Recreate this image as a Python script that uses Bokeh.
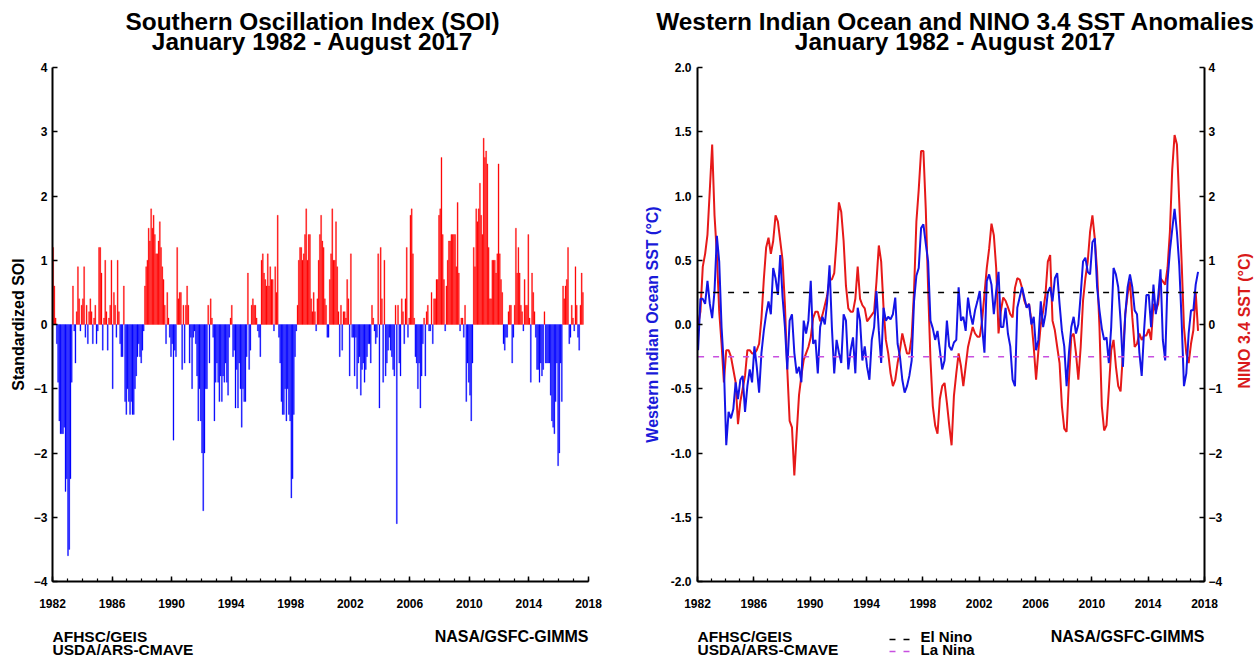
import math
import numpy as np
from bokeh.plotting import figure
from bokeh.models import Range1d, LinearAxis, FixedTicker, NumeralTickFormatter, ColumnDataSource
from bokeh.layouts import column, row
from bokeh.core.properties import value
from bokeh.embed import file_html
from bokeh.resources import INLINE

FONT = "Liberation Sans"

# ---------------- data ----------------
start_year = 1982
end_year = 2018
year_ticks = list(range(1982, 2019, 4))
year_minor_ticks = list(range(1982, 2019))
soi_ticks = [-4, -3, -2, -1, 0, 1, 2, 3, 4]
wio_ticks = [-2.0, -1.5, -1.0, -0.5, 0.0, 0.5, 1.0, 1.5, 2.0]
nino_ticks = [-4, -3, -2, -1, 0, 1, 2, 3, 4]

# Monthly standardized SOI, Jan 1982 - Aug 2017 (one row per year)
soi = [
    1.2, 0.6, 0.1, -0.3, -0.9, -1.5, -1.7, -1.7, -1.7, -1.6, -2.6, -2.4,   # 1982
    -3.6, -3.5, -2.4, -0.9, 0.6, -0.1, -0.6, 0.2, 0.9, 0.4, -0.1, 0.3,    # 1983
    0.4, 0.9, -0.2, 0.3, -0.3, 0.2, 0.4, 0.2, -0.3, 0.1, 0.3, -0.3,       # 1984
    -0.1, 1.2, 1.2, 0.8, -0.4, 0.1, 1.0, 0.2, -0.4, 0.1, 0.3, 1.0,        # 1985
    -1.0, 0.5, 0.3, -0.2, 1.0, 0.2, -0.3, -0.5, -0.5, 0.6, -1.2, -1.4,    # 1986
    -1.0, -1.2, -1.4, -1.2, -1.4, -1.4, -1.0, -0.8, -0.5, -0.3, -0.5, -0.6,  # 1987
    -0.4, -0.1, 0.6, 0.9, 1.0, 1.5, 1.3, 1.8, 1.5, 1.7, 1.4, 1.1,         # 1988
    1.1, 1.3, 1.6, 1.2, 0.9, 0.7, 0.3, -0.3, 0.5, 0.1, -0.2, -0.5,        # 1989
    -0.3, -1.8, -0.4, -0.5, 1.2, 0.4, 0.5, 0.5, -0.7, 0.3, -0.6, 0.3,     # 1990
    0.6, 0.3, -0.6, -0.2, -1.0, -0.2, -0.1, -0.3, -0.8, -1.5, -1.0, -1.5, # 1991
    -2.0, -2.9, -2.0, -1.0, -1.0, 0.3, -0.6, 0.4, 0.1, -0.2, -1.5, -0.9,  # 1992
    -0.6, -0.9, -1.2, -0.8, -1.2, -0.8, -0.9, -0.6, -0.9, -1.1, -0.2, 0.1,  # 1993
    0.3, -0.5, -0.4, -1.3, -0.7, -1.3, -0.6, -1.0, -1.6, -1.0, -1.2, -1.2,  # 1994
    -0.5, 0.8, -0.7, -0.4, 0.3, 0.4, 0.3, 0.3, 0.1, -0.1, -0.2, -0.5,     # 1995
    1.0, 1.1, 0.8, 0.7, 0.6, 1.1, 0.6, 0.9, 0.7, 0.7, -0.1, 0.9,          # 1996
    0.5, 1.7, -0.2, -0.6, -1.2, -1.4, -1.4, -1.0, -1.5, -1.0, -1.4, -1.5, # 1997
    -2.7, -2.4, -1.4, -0.5, -0.1, 0.3, 1.0, 1.2, 1.2, 1.0, 1.1, 1.4,      # 1998
    1.8, 1.0, 1.4, 1.4, 0.4, 0.2, 0.5, 0.2, -0.1, 0.4, 1.0, 1.4,          # 1999
    1.7, 1.3, 1.2, 0.4, 0.3, -0.2, -0.2, 0.7, 1.1, 1.8, 1.0, 1.0,         # 2000
    1.6, 0.9, 0.2, -0.5, 0.3, -0.4, 0.2, 0.2, 0.1, 0.7, 0.4, -0.8,        # 2001
    1.1, -0.2, -0.2, -0.8, -0.2, -1.0, -0.6, -0.5, -1.1, -0.7, -0.6, -0.9,  # 2002
    -0.7, -0.5, -0.3, -0.3, -0.6, 0.3, 0.1, -0.1, -0.3, -0.2, 1.1, -1.3,  # 2003
    1.2, 0.4, -0.9, 1.0, -0.8, -0.6, -0.4, -0.2, -0.4, -0.5, -0.7, -0.8,  # 2004
    0.3, -3.1, 0.3, -0.6, -0.8, 0.4, 0.2, -0.3, 0.4, 1.2, -0.2, 0.1,      # 2005
    1.7, 1.8, 1.1, 0.1, -0.5, -0.6, -1.0, -0.6, -1.3, -0.8, -0.3, 0.1,    # 2006
    -0.8, 0.2, 0.3, -0.1, -0.1, 0.5, -0.3, 0.4, 0.4, 0.7, 0.7, 1.7,       # 2007
    1.8, 2.6, 1.4, 0.7, -0.1, 0.6, 1.0, 1.3, 1.3, 1.4, 1.4, 1.4,          # 2008
    1.4, 0.9, 1.9, 0.8, -0.1, 0.1, 0.1, -0.2, 0.3, -1.2, -0.6, -0.9,      # 2009
    -1.1, -1.5, -0.6, 1.2, 0.9, 1.8, 1.6, 1.8, 2.2, 1.7, 1.4, 2.9,        # 2010
    2.6, 2.7, 2.5, 1.2, 0.4, 0.4, 1.0, 1.0, 1.0, 0.8, 1.1, 2.5,           # 2011
    1.1, 0.7, 0.5, -0.3, -0.4, -0.2, -0.2, 0.2, 0.3, 0.3, -0.6, -0.2,     # 2012
    0.3, 1.5, 0.8, 1.2, 0.8, 0.3, 0.2, -0.1, 0.7, 0.3, 0.3, 1.4,          # 2013
    0.1, -0.9, 0.8, 0.5, 0.2, -0.2, -0.7, -0.7, -0.9, -0.6, -0.8, -0.7,   # 2014
    0.2, -0.6, -0.6, -0.6, -0.6, -1.1, -1.5, -1.6, -1.7, -1.2, -0.6, -2.2,  # 2015
    -2.0, -0.6, -1.2, 0.6, 0.4, 0.6, 0.7, 1.2, -0.3, -0.2, 0.3, 0.1,      # 2016
    -0.1, 0.9, 0.3, -0.2, -0.4, 0.3, 0.8, 0.5,                            # 2017 (Jan-Aug)
]

# Western Indian Ocean SST anomaly (deg C), every second month from Jan 1982
wio = [
    -0.2, 0.2, 0.2, 0.16, 0.34, 0.16,          # 1982
    0.05, 0.26, 0.69, 0.49, -0.02, -0.33,      # 1983
    -0.94, -0.68, -0.73, -0.66, -0.45, -0.58,  # 1984
    -0.43, -0.4, -0.68, -0.48, -0.35, -0.45,   # 1985
    -0.17, -0.33, -0.53, -0.22, -0.05, 0.08,   # 1986
    0.18, 0.08, 0.44, 0.36, 0.23, 0.54,        # 1987
    0.21, -0.02, -0.35, 0.03, 0.08, -0.22,     # 1988
    -0.38, -0.33, -0.45, 0.03, -0.07, 0.03,    # 1989
    0.34, -0.15, -0.12, -0.38, -0.02, 0.06,    # 1990
    0.0, 0.18, 0.46, -0.02, -0.38, -0.12,      # 1991
    -0.22, -0.3, 0.08, 0.03, -0.35, -0.2,      # 1992
    -0.1, -0.38, 0.13, 0.03, -0.28, -0.17,     # 1993
    -0.33, -0.43, -0.12, -0.02, 0.26, -0.05,   # 1994
    -0.3, 0.13, 0.03, 0.06, 0.04, 0.08,        # 1995
    0.21, -0.15, -0.25, -0.43, -0.53, -0.48,   # 1996
    -0.4, -0.28, 0.18, 0.38, 0.44, 0.75,       # 1997
    0.78, 0.63, 0.49, 0.03, -0.03, -0.12,      # 1998
    -0.05, -0.2, -0.35, -0.28, 0.03, -0.17,    # 1999
    -0.2, -0.14, -0.12, 0.29, 0.03, 0.06,      # 2000
    -0.05, 0.21, 0.08, 0.0, 0.11, 0.18,        # 2001
    0.26, -0.02, -0.22, 0.34, 0.39, 0.31,      # 2002
    0.08, 0.26, 0.41, -0.02, -0.02, 0.13,      # 2003
    -0.07, -0.17, -0.43, -0.48, 0.13, 0.21,    # 2004
    0.29, 0.21, 0.13, 0.16, 0.0, 0.06,         # 2005
    -0.2, -0.12, 0.18, -0.02, 0.08, 0.25,      # 2006
    0.29, 0.18, 0.36, 0.4, 0.16, -0.05,        # 2007
    -0.17, -0.48, -0.22, -0.02, 0.06, -0.07,   # 2008
    0.0, 0.23, 0.49, 0.52, 0.41, 0.39,         # 2009
    0.64, 0.67, 0.29, 0.11, -0.03, -0.12,      # 2010
    -0.1, -0.3, -0.02, 0.44, 0.39, 0.29,       # 2011
    0.03, -0.33, 0.08, 0.29, 0.39, 0.29,       # 2012
    0.11, 0.08, -0.22, -0.4, -0.05, 0.23,      # 2013
    0.23, -0.02, 0.31, 0.08, 0.21, 0.43,       # 2014
    -0.12, -0.28, 0.34, 0.57, 0.74, 0.9,       # 2015
    0.72, 0.46, 0.03, -0.48, -0.38, -0.07,     # 2016
    0.11, 0.11, 0.31, 0.41,                    # 2017
]

# NINO 3.4 SST anomaly (deg C), every second month from Jan 1982
nino = [
    0.0, 0.2, 0.9, 1.1, 1.4, 2.1,              # 1982
    2.8, 1.7, 1.1, 0.2, -0.3, -0.9,            # 1983
    -0.4, -0.4, -0.5, -0.7, -0.9, -1.55,       # 1984
    -1.2, -1.0, -0.8, -0.4, -0.4, -0.45,       # 1985
    -0.45, -0.4, -0.3, 0.1, 0.7, 1.2,          # 1986
    1.35, 1.1, 1.3, 1.7, 1.6, 1.3,             # 1987
    1.0, 0.3, -0.7, -1.5, -1.6, -2.35,         # 1988
    -1.7, -1.1, -0.8, -0.55, -0.45, -0.35,     # 1989
    -0.2, 0.1, 0.2, 0.2, 0.05, 0.15,           # 1990
    0.3, 0.45, 0.7, 0.7, 0.8, 1.3,             # 1991
    1.9, 1.75, 1.3, 0.6, 0.25, 0.2,            # 1992
    0.2, 0.4, 0.9, 0.4, 0.3, 0.25,             # 1993
    0.05, 0.1, 0.15, 0.2, 0.67, 1.23,          # 1994
    0.98, 0.27, -0.24, -0.45, -0.76, -0.96,    # 1995
    -0.86, -0.6, -0.4, -0.14, -0.3, -0.45,     # 1996
    -0.45, -0.19, 0.52, 1.6, 2.1, 2.7,         # 1997
    2.7, 1.8, 0.57, -0.55, -1.27, -1.57,       # 1998
    -1.7, -1.16, -0.96, -0.91, -1.22, -1.57,   # 1999
    -1.88, -1.11, -0.76, -0.45, -0.65, -0.96,  # 2000
    -0.65, -0.35, -0.19, -0.04, -0.14, -0.19,  # 2001
    -0.19, 0.06, 0.47, 0.88, 1.18, 1.57,       # 2002
    1.39, 0.88, -0.14, 0.21, 0.42, 0.37,       # 2003
    0.27, 0.16, 0.11, 0.57, 0.72, 0.7,         # 2004
    0.57, 0.37, 0.27, 0.32, 0.06, -0.35,       # 2005
    -0.86, -0.4, 0.0, 0.21, 0.47, 0.98,        # 2006
    1.08, 0.06, -0.09, -0.35, -0.6, -1.27,     # 2007
    -1.62, -1.67, -0.86, -0.19, -0.14, -0.45,  # 2008
    -0.86, -0.35, 0.37, 0.72, 0.98, 1.44,      # 2009
    1.7, 1.34, 0.83, -0.04, -1.27, -1.65,      # 2010
    -1.57, -1.01, -0.4, -0.24, -0.65, -0.96,   # 2011
    -1.04, -0.45, 0.16, 0.47, 0.67, 0.11,      # 2012
    -0.35, -0.3, -0.14, -0.24, -0.17, -0.17,   # 2013
    -0.07, -0.24, 0.32, 0.21, 0.32, 0.72,      # 2014
    0.67, 0.62, 0.88, 1.44, 2.41, 2.95,        # 2015
    2.8, 1.9, 0.98, -0.04, -0.45, -0.6,        # 2016
    -0.3, -0.09, 0.5, -0.1,                    # 2017
]

el_nino_threshold = 0.5    # NINO 3.4 deg C
la_nina_threshold = -0.5

# ---------------- colours / helpers ----------------
RED = "#FF0000"
BLUE = "#0000FF"
LINE_RED = "#E61919"
LINE_BLUE = "#1414E6"
MAGENTA = "#C850E0"
LABEL_BLUE = "#1A1AD9"
LABEL_RED = "#D91A1A"


def style_axis(ax, standoff, label_color="black", label_standoff=10, minor=True):
    ax.axis_line_width = 2
    ax.axis_line_color = "black"
    ax.major_tick_in = 5
    ax.major_tick_out = 0
    ax.major_tick_line_width = 1.5
    ax.major_tick_line_color = "black"
    if minor:
        ax.minor_tick_in = 3
        ax.minor_tick_out = 0
        ax.minor_tick_line_width = 1.2
        ax.minor_tick_line_color = "black"
    else:
        ax.minor_tick_line_color = None
    ax.major_label_text_font = FONT
    ax.major_label_text_font_style = "bold"
    ax.major_label_text_font_size = "12px"
    ax.major_label_text_color = "black"
    ax.major_label_standoff = standoff
    ax.axis_label_text_font = FONT
    ax.axis_label_text_font_style = "bold"
    ax.axis_label_text_font_size = "16px"
    ax.axis_label_text_color = label_color
    ax.axis_label_standoff = label_standoff


def blank(width, height, flip=True):
    yr = Range1d(height, 0) if flip else Range1d(0, height)
    f = figure(width=width, height=height, x_range=Range1d(0, width), y_range=yr,
               output_backend="svg", toolbar_location=None, min_border=0, title=None,
               x_axis_location=None, y_axis_location=None)
    f.outline_line_color = None
    f.grid.visible = False
    f.background_fill_color = "white"
    f.border_fill_color = "white"
    return f


# ---------------- left: SOI bars ----------------
soi_arr = np.array(soi)
soi_x = start_year + (np.arange(len(soi)) + 0.5) / 12.0
soi_src = ColumnDataSource(dict(
    x=soi_x, top=soi_arr,
    color=[RED if v >= 0 else BLUE for v in soi],
))

p1 = figure(width=620, height=560, x_range=Range1d(start_year, end_year), y_range=Range1d(-4, 4),
            output_backend="svg", toolbar_location=None, title=None,
            min_border_left=52, min_border_right=32, min_border_top=9, min_border_bottom=37)
p1.outline_line_color = None
p1.grid.visible = False
p1.vbar(x="x", top="top", bottom=0, width=0.8 / 12, fill_color="color", line_color="color",
        line_width=0.3, source=soi_src)
p1.xaxis.ticker = FixedTicker(ticks=year_ticks, minor_ticks=year_minor_ticks)
p1.yaxis.ticker = FixedTicker(ticks=soi_ticks)
p1.yaxis.axis_label = "Standardized SOI"
style_axis(p1.xaxis[0], 17)
style_axis(p1.yaxis[0], 5, label_standoff=4, minor=False)

# ---------------- right: SST lines ----------------
sst_x = start_year + (2 * np.arange(len(wio)) + 0.5) / 12.0

p2 = figure(width=610, height=560, x_range=Range1d(start_year, end_year), y_range=Range1d(-2, 2),
            output_backend="svg", toolbar_location=None, title=None,
            min_border_left=77, min_border_right=26, min_border_top=9, min_border_bottom=37)
p2.outline_line_color = None
p2.grid.visible = False
p2.extra_y_ranges = {"nino": Range1d(-4, 4)}

p2.line(sst_x, nino, y_range_name="nino", line_color=LINE_RED, line_width=2)
p2.line(sst_x, wio, line_color=LINE_BLUE, line_width=2)
thr_x = [sst_x[0], sst_x[-1]]
p2.line(thr_x, [el_nino_threshold] * 2, y_range_name="nino", line_color="black",
        line_width=1.5, line_dash="6 9")
p2.line(thr_x, [la_nina_threshold] * 2, y_range_name="nino", line_color=MAGENTA,
        line_width=1.5, line_dash="6 9")

p2.xaxis.ticker = FixedTicker(ticks=year_ticks, minor_ticks=year_minor_ticks)
p2.yaxis.ticker = FixedTicker(ticks=wio_ticks)
p2.yaxis.formatter = NumeralTickFormatter(format="0.0")
p2.yaxis.axis_label = "Western Indian Ocean SST (°C)"
style_axis(p2.xaxis[0], 17)
style_axis(p2.yaxis[0], 6, label_color=LABEL_BLUE, label_standoff=7, minor=False)

rax = LinearAxis(y_range_name="nino", ticker=FixedTicker(ticks=nino_ticks))
style_axis(rax, 4, minor=False)
p2.add_layout(rax, "right")

# right-hand axis title in its own narrow strip (reads bottom-to-top)
rlab = blank(28, 560, flip=False)
rlab.text(x=[14], y=[284], text=["NINO 3.4 SST (°C)"], angle=math.pi / 2,
          text_font=value(FONT), text_font_style="bold", text_font_size="16px",
          text_align="center", text_baseline="middle", text_color=LABEL_RED)

# ---------------- header / footer ----------------
hdr = blank(1258, 58)
hdr.text(x=[312, 312, 955, 955], y=[21, 41, 21, 41],
         text=["Southern Oscillation Index (SOI)", "January 1982 - August 2017",
               "Western Indian Ocean and NINO 3.4 SST Anomalies", "January 1982 - August 2017"],
         text_font=value(FONT), text_font_style="bold", text_font_size="24.4px",
         text_align="center", text_baseline="alphabetic", text_color="black")

ftr = blank(1258, 44)
ftr.text(x=[52, 52, 697, 697], y=[18, 31, 18, 31],
         text=["AFHSC/GEIS", "USDA/ARS-CMAVE", "AFHSC/GEIS", "USDA/ARS-CMAVE"],
         text_font=value(FONT), text_font_style="bold", text_font_size="15.5px",
         text_align="left", text_baseline="alphabetic", text_color="black")
ftr.text(x=[588, 1204], y=[18, 18], text=["NASA/GSFC-GIMMS", "NASA/GSFC-GIMMS"],
         text_font=value(FONT), text_font_style="bold", text_font_size="16px",
         text_align="right", text_baseline="alphabetic", text_color="black")
ftr.line([889, 909], [21, 21], line_color="black", line_width=1.5, line_dash="6 8")
ftr.line([889, 909], [33, 33], line_color=MAGENTA, line_width=1.5, line_dash="6 8")
ftr.text(x=[920, 920], y=[18, 31], text=["El Nino", "La Nina"],
         text_font=value(FONT), text_font_style="bold", text_font_size="15px",
         text_align="left", text_baseline="alphabetic", text_color="black")

layout = column(hdr, row(p1, p2, rlab), ftr)
open("out.html", "w").write(file_html(layout, INLINE))
